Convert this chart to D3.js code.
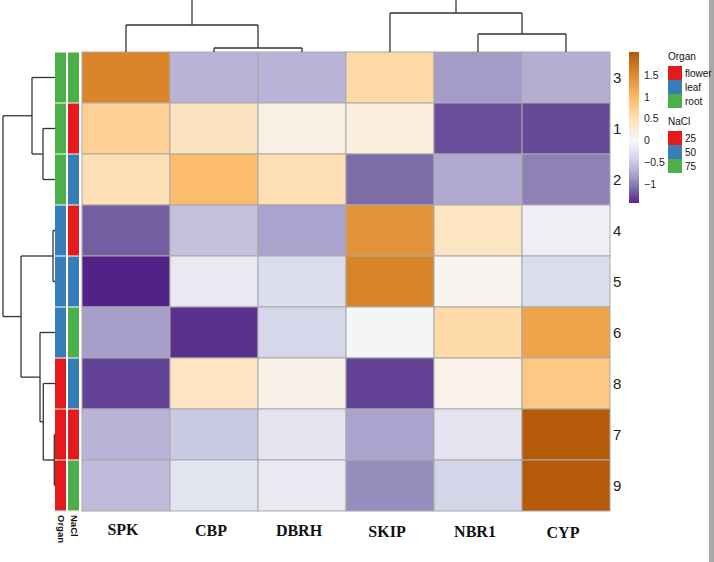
<!DOCTYPE html>
<html><head><meta charset="utf-8">
<script src="https://cdn.jsdelivr.net/npm/d3@7"></script>
<style>body{margin:0;background:#fff}svg{display:block}</style>
</head><body>
<svg id="c" width="714" height="562"></svg>
<script>
const colNames = ["SPK","CBP","DBRH","SKIP","NBR1","CYP"];
const rowNames = ["3","1","2","4","5","6","8","7","9"];
const values = [
  [ 1.55,-0.65,-0.65, 0.60,-0.82,-0.70],
  [ 0.70, 0.42, 0.15, 0.20,-1.25,-1.27],
  [ 0.50, 0.95, 0.52,-1.10,-0.73,-0.98],
  [-1.17,-0.55,-0.77, 1.40, 0.40,-0.10],
  [-1.45,-0.17,-0.32, 1.56, 0.05,-0.32],
  [-0.80,-1.38,-0.38,-0.03, 0.58, 1.22],
  [-1.30, 0.40, 0.12,-1.30, 0.10, 0.80],
  [-0.65,-0.48,-0.22,-0.77,-0.22, 2.00],
  [-0.60,-0.24,-0.18,-0.90,-0.40, 2.00]
];
const organ = ["root","root","root","leaf","leaf","leaf","flower","flower","flower"];
const nacl  = ["75","25","50","25","50","75","50","25","75"];
const organLevels = ["flower","leaf","root"];
const naclLevels = ["25","50","75"];
const annoColors = ["#e41a1c","#377eb8","#4daf4a"];
// dendrogram merges: [left, right, height]; "cN" = result of merge N
const rowMerges = [["1","2",1.2],["3","c0",2.3],["7","9",0.07],["8","c2",1.17],["6","c3",1.5],["4","5",0.2],["c5","c4",3.4],["c1","c6",5.2]];
const colMerges = [["CBP","DBRH",0.4],["SPK","c0",2.7],["NBR1","CYP",1.8],["SKIP","c2",3.9],["c1","c3",6.5]];
const legendTicks = [-1,-0.5,0,0.5,1,1.5];
const colorStops = [-1.43,-1.07,-0.72,-0.36,0,0.5,1.0,1.5,2.02];
const colorRange = ["#542788","#8073ac","#b2abd2","#d8daeb","#f7f7f7","#fee0b6","#fdb863","#de8a2e","#b35806"];

const svg = d3.select("#c");
const color = d3.scaleLinear().domain(colorStops).range(colorRange).interpolate(d3.interpolateRgb);
const x = d3.scaleBand().domain(colNames).range([82,610]);
const y = d3.scaleBand().domain(rowNames).range([52,511]);

// right border
svg.append("rect").attr("x",709).attr("y",0).attr("width",5).attr("height",562).attr("fill","#a8a8a8");

// cells
const g = svg.append("g");
values.forEach((row,i)=>row.forEach((v,j)=>{
  g.append("rect").attr("x",x(colNames[j])).attr("y",y(rowNames[i]))
   .attr("width",x.bandwidth()).attr("height",y.bandwidth())
   .attr("fill",color(v)).attr("stroke","#a9a9a9").attr("stroke-width",1);
}));

// annotations
const oc = d3.scaleOrdinal().domain(organLevels).range(annoColors);
const nc = d3.scaleOrdinal().domain(naclLevels).range(annoColors);
rowNames.forEach((r,i)=>{
  svg.append("rect").attr("x",55).attr("y",y(r)+0.5).attr("width",11).attr("height",y.bandwidth()-1).attr("fill",oc(organ[i]));
  svg.append("rect").attr("x",68).attr("y",y(r)+0.5).attr("width",11).attr("height",y.bandwidth()-1).attr("fill",nc(nacl[i]));
});
[["Organ",61],["NaCl",74]].forEach(([t,cx])=>{
  svg.append("text").attr("transform",`translate(${cx-3.5},515) rotate(90)`)
   .attr("font-family","Liberation Sans, Arial").attr("font-weight","bold").attr("font-size",9.5).attr("fill","#111").text(t);
});

// row labels
rowNames.forEach(r=>{
  svg.append("text").attr("x",613).attr("y",y(r)+y.bandwidth()/2+5.5)
   .attr("font-family","Liberation Sans, Arial").attr("font-size",15).attr("fill","#222").text(r);
});
// column labels
colNames.forEach((c,j)=>{
  svg.append("text").attr("x",x(c)+x.bandwidth()/2-3).attr("y",535+j*0.5).attr("text-anchor","middle")
   .attr("font-family","Liberation Serif, Times New Roman").attr("font-weight","bold").attr("font-size",16).attr("fill","#111").text(c);
});

// dendrograms
function dendro(merges, leafPos, hScale, horizontal){
  const pos = {}; const hts = {};
  Object.keys(leafPos).forEach(k=>{pos[k]=leafPos[k]; hts[k]=0;});
  const lines = [];
  merges.forEach((m,i)=>{
    const [a,b,h]=m; const id="c"+i;
    const pa=pos[a], pb=pos[b], hv=hScale(h);
    const ha=hScale(hts[a]), hb=hScale(hts[b]);
    if(horizontal){
      lines.push([ha,pa,hv,pa],[hb,pb,hv,pb],[hv,pa,hv,pb]);
    } else {
      lines.push([pa,ha,pa,hv],[pb,hb,pb,hv],[pa,hv,pb,hv]);
    }
    pos[id]=(pa+pb)/2; hts[id]=h;
  });
  svg.append("g").selectAll("line").data(lines).join("line")
   .attr("x1",d=>d[0]).attr("y1",d=>d[1]).attr("x2",d=>d[2]).attr("y2",d=>d[3])
   .attr("stroke","#333").attr("stroke-width",1.3);
}
const rowLeaf = {}; rowNames.forEach(r=>rowLeaf[r]=y(r)+y.bandwidth()/2);
dendro(rowMerges,rowLeaf,d3.scaleLinear().domain([0,1]).range([55,45]),true);
const colLeaf = {}; colNames.forEach(c=>colLeaf[c]=x(c)+x.bandwidth()/2);
dendro(colMerges,colLeaf,d3.scaleLinear().domain([0,1]).range([52,42]),false);

// color legend
const ly = d3.scaleLinear().domain([colorStops[0],colorStops[colorStops.length-1]]).range([203,52]);
const defs = svg.append("defs");
const grad = defs.append("linearGradient").attr("id","lg").attr("x1",0).attr("y1",1).attr("x2",0).attr("y2",0);
colorStops.forEach((s,i)=>grad.append("stop")
  .attr("offset",(s-colorStops[0])/(colorStops[colorStops.length-1]-colorStops[0]))
  .attr("stop-color",colorRange[i]));
svg.append("rect").attr("x",629).attr("y",52).attr("width",10).attr("height",151).attr("fill","url(#lg)");
const ax = svg.append("g").attr("transform","translate(642,0)")
  .call(d3.axisRight(ly).tickValues(legendTicks).tickSize(0).tickPadding(2).tickFormat(d3.format("")));
ax.select(".domain").remove();
ax.selectAll("text").attr("font-family","Liberation Sans, Arial").attr("font-size",10.5).attr("fill","#222");

// discrete legends
function discLegend(title, levels, top){
  svg.append("text").attr("x",668).attr("y",top).attr("font-family","Liberation Sans, Arial")
    .attr("font-size",10).attr("fill","#111").text(title);
  levels.forEach((l,i)=>{
    svg.append("rect").attr("x",668).attr("y",top+6+i*14).attr("width",14).attr("height",14).attr("fill",annoColors[i]);
    svg.append("text").attr("x",685).attr("y",top+17+i*14).attr("font-family","Liberation Sans, Arial")
      .attr("font-size",10).attr("fill","#111").text(l);
  });
}
discLegend("Organ",organLevels,60);
discLegend("NaCl",naclLevels,125);
</script>
</body></html>
